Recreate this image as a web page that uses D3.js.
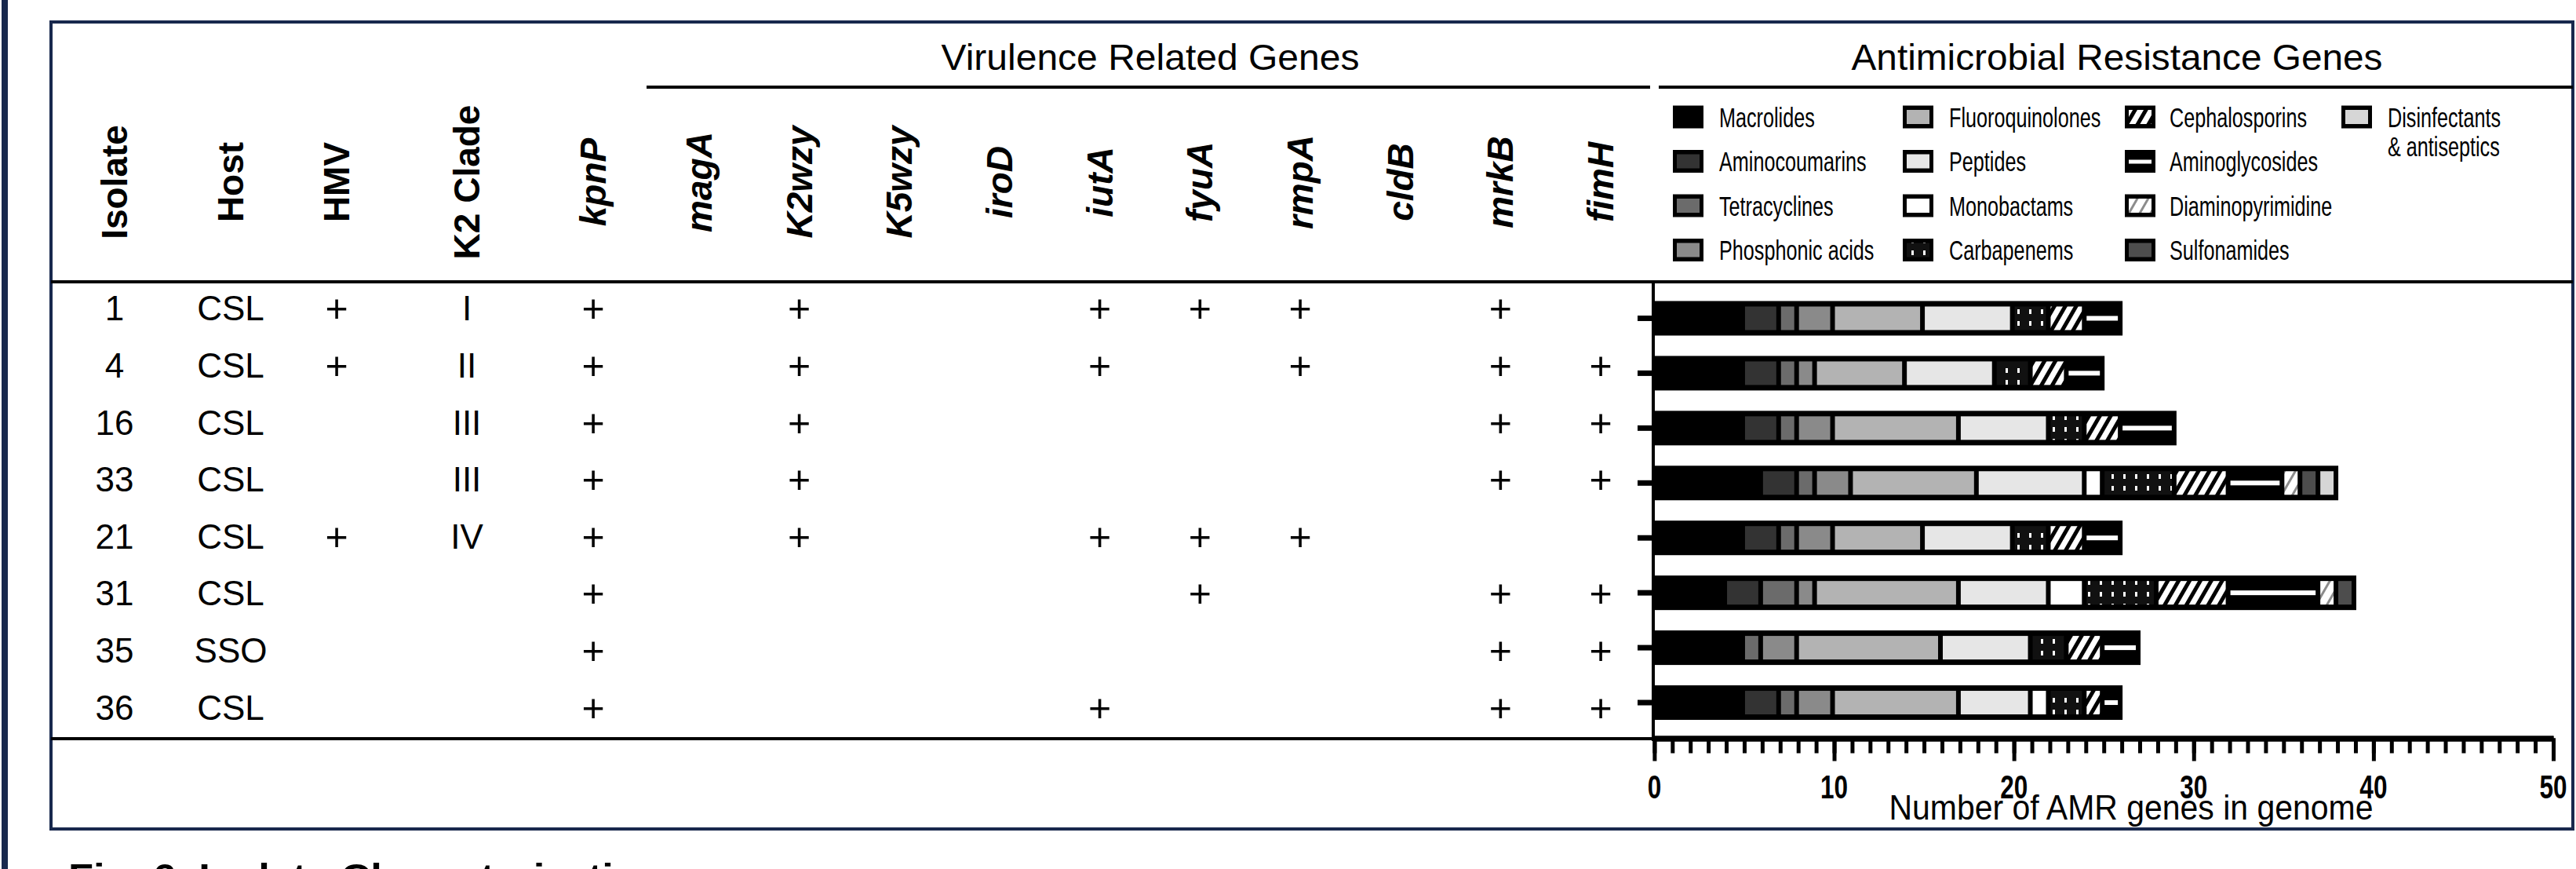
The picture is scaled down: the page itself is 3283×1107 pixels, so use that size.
<!DOCTYPE html>
<html>
<head>
<meta charset="utf-8">
<script src="https://cdn.jsdelivr.net/npm/d3@7"></script>
<style>
  html, body { margin: 0; padding: 0; background: #fff; }
  svg { display: block; }
</style>
</head>
<body>
<svg id="chart"></svg>
<script>
// table columns
const isolates = ['1', '4', '16', '33', '21', '31', '35', '36'];
const hosts = ['CSL', 'CSL', 'CSL', 'CSL', 'CSL', 'CSL', 'SSO', 'CSL'];
const hmv = ['+', '+', '', '', '+', '', '', ''];
const k2Clade = ['I', 'II', 'III', 'III', 'IV', '', '', ''];

// virulence genes, one mark per isolate
const geneNames = ['kpnP', 'magA', 'K2wzy', 'K5wzy', 'iroD', 'iutA', 'fyuA', 'rmpA', 'cldB', 'mrkB', 'fimH'];
const kpnP = ['+', '+', '+', '+', '+', '+', '+', '+'];
const magA = ['', '', '', '', '', '', '', ''];
const k2wzy = ['+', '+', '+', '+', '+', '', '', ''];
const k5wzy = ['', '', '', '', '', '', '', ''];
const iroD = ['', '', '', '', '', '', '', ''];
const iutA = ['+', '+', '', '', '+', '', '', '+'];
const fyuA = ['+', '', '', '', '+', '+', '', ''];
const rmpA = ['+', '+', '', '', '+', '', '', ''];
const cldB = ['', '', '', '', '', '', '', ''];
const mrkB = ['+', '+', '+', '+', '', '+', '+', '+'];
const fimH = ['', '+', '+', '+', '', '+', '+', '+'];

// AMR gene counts per class (same isolate order)
const amrClasses = ['Macrolides', 'Aminocoumarins', 'Tetracyclines', 'Phosphonic acids',
  'Fluoroquinolones', 'Peptides', 'Monobactams', 'Carbapenems',
  'Cephalosporins', 'Aminoglycosides', 'Diaminopyrimidine', 'Sulfonamides',
  'Disinfectants & antiseptics'];
const macrolides = [5, 5, 5, 6, 5, 4, 5, 5];
const aminocoumarins = [2, 2, 2, 2, 2, 2, 0, 2];
const tetracyclines = [1, 1, 1, 1, 1, 2, 1, 1];
const phosphonicAcids = [2, 1, 2, 2, 2, 1, 2, 2];
const fluoroquinolones = [5, 5, 7, 7, 5, 8, 8, 7];
const peptides = [5, 5, 5, 6, 5, 5, 5, 4];
const monobactams = [0, 0, 0, 1, 0, 2, 0, 1];
const carbapenems = [2, 2, 2, 4, 2, 4, 2, 2];
const cephalosporins = [2, 2, 2, 3, 2, 4, 2, 1];
const aminoglycosides = [2, 2, 3, 3, 2, 5, 2, 1];
const diaminopyrimidine = [0, 0, 0, 1, 0, 1, 0, 0];
const sulfonamides = [0, 0, 0, 1, 0, 1, 0, 0];
const disinfectants = [0, 0, 0, 1, 0, 0, 0, 0];
const xTicks = [0, 10, 20, 30, 40, 50];

const amrSeries = [macrolides, aminocoumarins, tetracyclines, phosphonicAcids, fluoroquinolones,
  peptides, monobactams, carbapenems, cephalosporins, aminoglycosides, diaminopyrimidine,
  sulfonamides, disinfectants];
const geneColumns = [kpnP, magA, k2wzy, k5wzy, iroD, iutA, fyuA, rmpA, cldB, mrkB, fimH];

const W = 3283, H = 1107;
const FONT = '"Liberation Sans", Arial, sans-serif';
const navy = '#18284d';
const classFill = ['#000', '#333', '#6b6b6b', '#8a8a8a', '#b3b3b3', '#e6e6e6', '#fff',
  'url(#carbapenem)', 'url(#cephalo)', '#000', 'url(#diamino)', '#4d4d4d', '#d6d6d6'];

const svg = d3.select('#chart').attr('width', W).attr('height', H);

// patterns
const defs = svg.append('defs');
const carb = defs.append('pattern').attr('id', 'carbapenem')
  .attr('patternUnits', 'userSpaceOnUse').attr('width', 15).attr('height', 15);
carb.append('rect').attr('width', 15).attr('height', 15).attr('fill', '#111');
carb.append('rect').attr('x', 6).attr('y', 4).attr('width', 3).attr('height', 6).attr('fill', '#fff');

const ceph = defs.append('pattern').attr('id', 'cephalo')
  .attr('patternUnits', 'userSpaceOnUse').attr('width', 12).attr('height', 12)
  .attr('patternTransform', 'rotate(30)');
ceph.append('rect').attr('width', 12).attr('height', 12).attr('fill', '#fff');
ceph.append('rect').attr('width', 5).attr('height', 12).attr('fill', '#000');

const dia = defs.append('pattern').attr('id', 'diamino')
  .attr('patternUnits', 'userSpaceOnUse').attr('width', 12).attr('height', 12)
  .attr('patternTransform', 'rotate(30)');
dia.append('rect').attr('width', 12).attr('height', 12).attr('fill', '#fff');
dia.append('rect').attr('width', 3).attr('height', 12).attr('fill', '#8c8c8c');

function addText(parent, txt, x, y, o) {
  let tr = `translate(${x},${y})`;
  if (o.rotate) tr += ` rotate(${o.rotate})`;
  if (o.sx) tr += ` scale(${o.sx},1)`;
  const t = parent.append('text')
    .attr('transform', tr)
    .attr('text-anchor', o.anchor || 'middle')
    .attr('font-family', FONT)
    .attr('font-size', o.size)
    .attr('font-weight', o.weight || 'normal')
    .attr('font-style', o.italic ? 'italic' : 'normal')
    .attr('fill', '#000')
    .text(txt);
  if (o.len) t.attr('textLength', o.len).attr('lengthAdjust', 'spacingAndGlyphs');
  return t;
}

// frame
svg.append('rect').attr('x', 2).attr('y', 0).attr('width', 8).attr('height', H).attr('fill', navy);
svg.append('rect').attr('x', 65).attr('y', 28).attr('width', 3214).attr('height', 1028)
  .attr('fill', 'none').attr('stroke', navy).attr('stroke-width', 4);

const lines = svg.append('g').attr('stroke', '#000').attr('stroke-width', 4);
lines.append('line').attr('x1', 824).attr('x2', 2103).attr('y1', 111).attr('y2', 111);
lines.append('line').attr('x1', 2114).attr('x2', 3279).attr('y1', 111).attr('y2', 111);
lines.append('line').attr('x1', 65).attr('x2', 3279).attr('y1', 359).attr('y2', 359);
lines.append('line').attr('x1', 65).attr('x2', 2108).attr('y1', 941).attr('y2', 941);

addText(svg, 'Virulence Related Genes', 1466, 89, {size: 46, len: 533});
addText(svg, 'Antimicrobial Resistance Genes', 2698, 89, {size: 46, len: 677});

// table
const yRow = d3.scaleBand().domain(isolates).range([356, 937]);
const rowC = d => yRow(d) + yRow.bandwidth() / 2;
const geneX = d3.scalePoint().domain(geneNames.slice(1)).range([891, 2040]);

const columns = [
  {name: 'Isolate', values: isolates, x: 146},
  {name: 'Host', values: hosts, x: 294},
  {name: 'HMV', values: hmv, x: 429},
  {name: 'K2 Clade', values: k2Clade, x: 595},
].concat(geneNames.map((g, i) => ({
  name: g, values: geneColumns[i], italic: true,
  x: i === 0 ? 756 : geneX(g)
})));

const table = svg.append('g');
columns.forEach(col => {
  addText(table, col.name, col.x + 16, 232, {size: 46, weight: 'bold', italic: col.italic, rotate: -90});
  col.values.forEach((v, i) => {
    if (!v) return;
    const c = rowC(isolates[i]);
    if (v === '+') addText(table, v, col.x, c + 18, {size: 50});
    else addText(table, v, col.x, c + 16, {size: 44});
  });
});

// stacked AMR bars
const x = d3.scaleLinear().domain([0, 50]).range([2108.4, 3254]);
const yBar = d3.scaleBand().domain(isolates).range([370.5, 930]);
const barC = d => yBar(d) + yBar.bandwidth() / 2;

const rows = isolates.map((iso, i) => {
  const o = {isolate: iso};
  amrClasses.forEach((c, k) => { o[c] = amrSeries[k][i]; });
  return o;
});
const series = d3.stack().keys(amrClasses)(rows);
const totals = isolates.map((iso, i) => d3.sum(amrSeries, s => s[i]));

const bars = svg.append('g');
bars.selectAll('rect.bg')
  .data(isolates)
  .enter()
  .append('rect')
  .attr('class', 'bg')
  .attr('x', x(0))
  .attr('y', d => barC(d) - 22)
  .attr('width', (d, i) => x(totals[i]) - x(0) + 1)
  .attr('height', 44)
  .attr('fill', '#000');

series.forEach((s, k) => {
  if (k === 0) return;
  const segs = s.filter(d => d[1] > d[0]);
  bars.selectAll('rect.s' + k)
    .data(segs)
    .enter()
    .append('rect')
    .attr('class', 's' + k)
    .attr('x', d => x(d[0]) + 1)
    .attr('y', d => barC(d.data.isolate) - 15)
    .attr('width', d => x(d[1]) - x(d[0]) - 6)
    .attr('height', 30)
    .attr('fill', classFill[k]);
  if (amrClasses[k] === 'Aminoglycosides') {
    bars.selectAll('rect.w' + k)
      .data(segs)
      .enter()
      .append('rect')
      .attr('class', 'w' + k)
      .attr('x', d => x(d[0]) + 1)
      .attr('y', d => barC(d.data.isolate) - 3)
      .attr('width', d => x(d[1]) - x(d[0]) - 6)
      .attr('height', 6)
      .attr('fill', '#fff');
  }
});

// y axis
const yAxisG = svg.append('g').attr('transform', 'translate(2107,0)')
  .call(d3.axisLeft(yBar).tickSize(20).tickFormat(''));
yAxisG.select('.domain').remove();
yAxisG.selectAll('.tick line').attr('stroke', '#000').attr('stroke-width', 7);
svg.append('line').attr('x1', 2107).attr('x2', 2107).attr('y1', 357).attr('y2', 944)
  .attr('stroke', '#000').attr('stroke-width', 4);

// x axis
const xMinor = svg.append('g').attr('transform', 'translate(0,940.5)')
  .call(d3.axisBottom(x).tickValues(d3.range(0, 51)).tickSize(19).tickSizeOuter(0).tickFormat(''));
const xMajor = svg.append('g').attr('transform', 'translate(0,940.5)')
  .call(d3.axisBottom(x).tickValues(xTicks).tickSize(29).tickSizeOuter(0).tickFormat(''));
[xMinor, xMajor].forEach(g => {
  g.select('.domain').attr('stroke', '#000').attr('stroke-width', 7);
  g.selectAll('.tick line').attr('stroke', '#000').attr('stroke-width', 5);
});
xTicks.forEach(v => addText(svg, String(v), x(v), 1017, {size: 42, weight: 'bold', sx: 0.75}));
addText(svg, 'Number of AMR genes in genome', 2716, 1044, {size: 44, len: 617});

// legend
const legendSwatchX = [2132, 2425, 2708, 2984];
const legendTextX = [2191, 2484, 2765, 3043];
const legend = svg.append('g');
amrClasses.forEach((c, k) => {
  const col = Math.floor(k / 4), row = k % 4;
  const cy = 149 + row * 56.5;
  const sx = legendSwatchX[col];
  legend.append('rect').attr('x', sx).attr('y', cy - 14.5).attr('width', 39).attr('height', 29).attr('fill', '#000');
  if (k > 0) {
    legend.append('rect').attr('x', sx + 5).attr('y', cy - 9).attr('width', 29).attr('height', 18).attr('fill', classFill[k]);
  }
  if (c === 'Aminoglycosides') {
    legend.append('rect').attr('x', sx + 5).attr('y', cy - 2).attr('width', 29).attr('height', 5).attr('fill', '#fff');
  }
  if (c === 'Disinfectants & antiseptics') {
    addText(legend, 'Disinfectants', legendTextX[col], cy + 12.5, {size: 35, anchor: 'start', sx: 0.72});
    addText(legend, '& antiseptics', legendTextX[col], cy + 49.5, {size: 35, anchor: 'start', sx: 0.72});
  } else {
    addText(legend, c, legendTextX[col], cy + 12.5, {size: 35, anchor: 'start', sx: 0.72});
  }
});

// caption (cut off by the picture edge)
addText(svg, 'Fig. 6. Isolate Characterization', 87, 1133, {size: 46, weight: 'bold', anchor: 'start', len: 759});
</script>
</body>
</html>
